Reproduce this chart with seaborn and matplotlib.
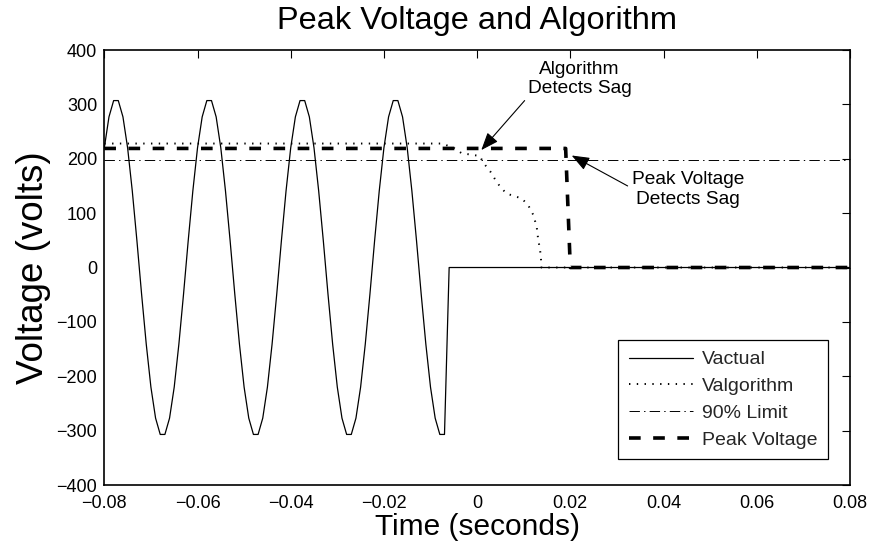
import matplotlib
matplotlib.use("Agg")
import matplotlib.pyplot as plt
import seaborn as sns

# ---- data -------------------------------------------------------------
# actual line voltage, sampled every millisecond until the sag, then zero
t_actual = [-0.080, -0.079, -0.078, -0.077, -0.076, -0.075, -0.074, -0.073, -0.072, -0.071,
            -0.070, -0.069, -0.068, -0.067, -0.066, -0.065, -0.064, -0.063, -0.062, -0.061,
            -0.060, -0.059, -0.058, -0.057, -0.056, -0.055, -0.054, -0.053, -0.052, -0.051,
            -0.050, -0.049, -0.048, -0.047, -0.046, -0.045, -0.044, -0.043, -0.042, -0.041,
            -0.040, -0.039, -0.038, -0.037, -0.036, -0.035, -0.034, -0.033, -0.032, -0.031,
            -0.030, -0.029, -0.028, -0.027, -0.026, -0.025, -0.024, -0.023, -0.022, -0.021,
            -0.020, -0.019, -0.018, -0.017, -0.016, -0.015, -0.014, -0.013, -0.012, -0.011,
            -0.010, -0.009, -0.008, -0.007, -0.006, 0.080]
v_actual = [220, 277, 307, 307, 277, 220, 141, 49, -49, -141,
            -220, -277, -307, -307, -277, -220, -141, -49, 49, 141,
            220, 277, 307, 307, 277, 220, 141, 49, -49, -141,
            -220, -277, -307, -307, -277, -220, -141, -49, 49, 141,
            220, 277, 307, 307, 277, 220, 141, 49, -49, -141,
            -220, -277, -307, -307, -277, -220, -141, -49, 49, 141,
            220, 277, 307, 307, 277, 220, 141, 49, -49, -141,
            -220, -277, -307, -307, 0, 0]

# algorithm estimate of the voltage
t_algo = [-0.080, -0.0075, -0.0048, -0.0033, -0.0016, 0.0006, 0.0013, 0.0028, 0.0038, 0.0049,
          0.0063, 0.0081, 0.0096, 0.0110, 0.0121, 0.0128, 0.0131, 0.0135, 0.0137, 0.0138, 0.080]
v_algo = [228, 228, 219, 210, 208, 205, 193, 177, 163, 149,
          136, 131, 127, 114, 96, 74, 52, 33, 17, 0, 0]

# 90 % limit
t_limit = [-0.080, 0.080]
v_limit = [198, 198]

# peak-voltage detector
t_peak = [-0.080, 0.019, 0.020, 0.080]
v_peak = [219, 219, 0, 0]

series_labels = ["Vactual", "Valgorithm", "90% Limit", "Peak Voltage"]
x_ticks = [-0.08, -0.06, -0.04, -0.02, 0, 0.02, 0.04, 0.06, 0.08]
x_tick_labels = ["\u22120.08", "\u22120.06", "\u22120.04", "\u22120.02", "0",
                 "0.02", "0.04", "0.06", "0.08"]
y_ticks = [-400, -300, -200, -100, 0, 100, 200, 300, 400]
y_tick_labels = ["\u2212400", "\u2212300", "\u2212200", "\u2212100", "0",
                 "100", "200", "300", "400"]

# ---- style ------------------------------------------------------------
sns.set_theme(style="white")
plt.rcParams["font.family"] = ["Liberation Sans", "DejaVu Sans"]
plt.rcParams["lines.scale_dashes"] = False
plt.rcParams["xtick.direction"] = "in"
plt.rcParams["ytick.direction"] = "in"

fig = plt.figure(figsize=(8.7, 5.46), dpi=100)
ax = fig.add_axes([0.1199, 0.1117, 0.857, 0.7967])

# ---- lines ------------------------------------------------------------
sns.lineplot(x=t_actual, y=v_actual, ax=ax, color="black", linewidth=0.9,
             label=series_labels[0], sort=False, estimator=None)
sns.lineplot(x=t_algo, y=v_algo, ax=ax, color="black", linewidth=1.4,
             label=series_labels[1], sort=False, estimator=None)
ax.lines[-1].set_dashes([1.0, 4.6])
sns.lineplot(x=t_limit, y=v_limit, ax=ax, color="black", linewidth=0.7,
             label=series_labels[2], sort=False, estimator=None)
ax.lines[-1].set_dashes([7.5, 3.0, 1.0, 3.0])
sns.lineplot(x=t_peak, y=v_peak, ax=ax, color="black", linewidth=2.6,
             label=series_labels[3], sort=False, estimator=None)
ax.lines[-1].set_dashes([8.4, 9.0])

# ---- axes -------------------------------------------------------------
ax.set_xlim(-0.08, 0.08)
ax.set_ylim(-400, 400)
ax.set_xticks(x_ticks)
ax.set_xticklabels(x_tick_labels)
ax.set_yticks(y_ticks)
ax.set_yticklabels(y_tick_labels)
ax.tick_params(axis="both", which="both", labelsize=13, length=6, width=0.8,
               top=True, right=True, color="black", labelcolor="black")
ax.tick_params(axis="x", pad=7)
ax.tick_params(axis="y", pad=5)
for sp in ax.spines.values():
    sp.set_visible(True)
    sp.set_color("black")
    sp.set_linewidth(1.2)

ax.set_title("Peak Voltage and Algorithm", fontsize=23.4, color="black",
             y=1.066, pad=0, va="center")
ax.set_xlabel("Time (seconds)", fontsize=21.5, color="black", va="center")
ax.xaxis.set_label_coords(0.5, -0.0965)
ax.set_ylabel("Voltage (volts)", fontsize=26.5, color="black", va="center")
ax.yaxis.set_label_coords(-0.0956, 0.5)

# ---- annotations ------------------------------------------------------
arrow_kw = dict(arrowstyle="-|>,head_length=0.9,head_width=0.35", color="black",
                lw=0.8, shrinkA=0, shrinkB=0)
ax.annotate("", xy=(0.0009, 216), xytext=(0.0102, 307), arrowprops=arrow_kw)
ax.text(0.022, 347, "Algorithm\nDetects Sag", ha="center", va="center",
        fontsize=13.8, color="black", linespacing=1.2)
ax.annotate("", xy=(0.0203, 206), xytext=(0.0323, 150), arrowprops=arrow_kw)
ax.text(0.0452, 144, "Peak Voltage\nDetects Sag", ha="center", va="center",
        fontsize=13.8, color="black", linespacing=1.2)

# ---- legend -----------------------------------------------------------
leg = ax.legend(loc="upper right", bbox_to_anchor=(0.9705, 0.3333), borderaxespad=0,
                fontsize=14, frameon=True, fancybox=False, framealpha=1,
                edgecolor="black", handlelength=3.3, handletextpad=0.45,
                labelspacing=0.47, borderpad=0.55)
leg.get_frame().set_linewidth(0.9)

fig.savefig("out.png", dpi=100, facecolor="white")
